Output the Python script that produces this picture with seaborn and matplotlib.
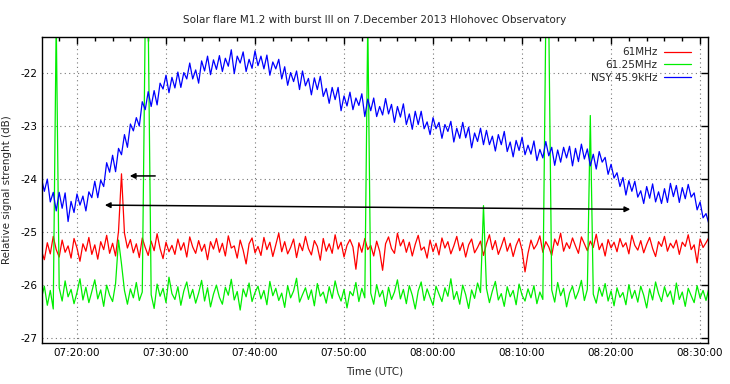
import numpy as np
import pandas as pd
import matplotlib
matplotlib.use("Agg")
import matplotlib.pyplot as plt
import matplotlib.dates as mdates
import seaborn as sns

# samples every 20 s starting 07:16:00 (7 December 2013)
start_time = "2013-12-07 07:16:00"
sample_step = "20s"

nsy_45k9 = [
    -23.98, -24.23, -24.00, -24.43, -24.25, -24.60, -24.25, -24.55, -24.26, -24.80, -24.42, -24.63, -24.28, -24.49, -24.32,
    -24.60, -24.24, -24.35, -24.04, -24.35, -24.02, -24.14, -23.69, -23.87, -23.55, -23.86, -23.42, -23.54, -23.16, -23.40,
    -22.96, -23.09, -22.84, -23.00, -22.54, -22.69, -22.35, -22.63, -22.33, -22.60, -22.19, -22.30, -22.04, -22.37, -22.08,
    -22.28, -21.98, -22.27, -21.99, -22.11, -21.81, -22.11, -21.94, -22.19, -21.77, -21.96, -21.68, -22.03, -21.75, -21.93,
    -21.67, -21.97, -21.72, -21.87, -21.56, -22.01, -21.68, -21.81, -21.60, -21.97, -21.74, -21.91, -21.58, -21.86, -21.68,
    -21.92, -21.66, -22.04, -21.79, -21.92, -21.74, -22.11, -21.88, -22.23, -21.99, -22.16, -21.96, -22.31, -21.96, -22.24,
    -22.10, -22.41, -22.09, -22.31, -22.06, -22.44, -22.29, -22.57, -22.27, -22.50, -22.27, -22.71, -22.43, -22.62, -22.36,
    -22.69, -22.47, -22.61, -22.39, -22.82, -22.49, -22.71, -22.47, -22.82, -22.63, -22.79, -22.48, -22.77, -22.59, -22.93,
    -22.63, -22.83, -22.58, -22.97, -22.77, -23.06, -22.72, -22.97, -22.72, -23.05, -22.92, -23.16, -22.84, -23.05, -22.93,
    -23.23, -22.97, -23.10, -22.91, -23.30, -23.04, -23.23, -22.93, -23.22, -23.02, -23.41, -23.13, -23.29, -23.04, -23.35,
    -23.08, -23.35, -23.19, -23.47, -23.16, -23.35, -23.10, -23.48, -23.30, -23.58, -23.27, -23.46, -23.21, -23.54, -23.36,
    -23.53, -23.28, -23.65, -23.44, -23.60, -23.29, -23.56, -23.40, -23.74, -23.45, -23.68, -23.40, -23.60, -23.38, -23.75,
    -23.42, -23.67, -23.34, -23.62, -23.43, -23.75, -23.53, -23.81, -23.48, -23.68, -23.59, -23.91, -23.72, -23.98, -23.88,
    -24.14, -23.97, -24.30, -24.03, -24.23, -24.04, -24.34, -24.22, -24.46, -24.14, -24.36, -24.09, -24.43, -24.24, -24.46,
    -24.18, -24.44, -24.08, -24.33, -24.12, -24.44, -24.16, -24.37, -24.10, -24.34, -24.26, -24.58, -24.43, -24.73, -24.65,
    -24.85,
]

mhz_61 = [
    -25.35, -25.52, -25.20, -25.41, -25.08, -25.33, -25.47, -25.15, -25.38, -25.26, -25.49, -25.12, -25.30, -25.55, -25.22,
    -25.36, -25.10, -25.42, -25.24, -25.51, -25.18, -25.33, -25.06, -25.40, -25.21, -25.45, -24.98, -23.90, -25.02, -25.30,
    -25.14, -25.39, -25.22, -25.48, -25.11, -25.29, -25.44, -25.17, -25.35, -25.03, -25.31, -25.50, -25.19, -25.37, -25.25,
    -25.42, -25.13, -25.34, -25.20, -25.47, -25.09, -25.28, -25.40, -25.16, -25.36, -25.23, -25.52, -25.18, -25.32, -25.12,
    -25.38, -25.21, -25.45, -25.07, -25.30, -25.26, -25.49, -25.15, -25.34, -25.60, -25.22, -25.11, -25.39, -25.27, -25.44,
    -25.10, -25.33, -25.19, -25.46, -25.24, -25.02, -25.37, -25.18, -25.41, -25.29, -25.13, -25.48, -25.21, -25.35, -25.08,
    -25.31, -25.43, -25.16, -25.27, -25.53, -25.12, -25.36, -25.22, -25.40, -25.05, -25.32, -25.19, -25.47, -25.25, -25.14,
    -25.28, -25.70, -25.20, -25.38, -25.12, -25.33, -25.25, -25.45, -25.17, -25.36, -25.72, -25.22, -25.09, -25.31, -25.40,
    -25.02, -25.26, -25.14, -25.38, -25.19, -25.45, -25.23, -25.06, -25.34, -25.28, -25.49, -25.15, -25.37, -25.21, -25.43,
    -25.11, -25.30, -25.18, -25.41, -25.26, -25.08, -25.35, -25.20, -25.47, -25.24, -25.13, -25.39, -25.29, -25.17, -25.44,
    -25.22, -25.05, -25.33, -25.16, -25.42, -25.27, -25.10, -25.36, -25.21, -25.46, -25.25, -25.12, -25.34, -25.75, -25.40,
    -25.15, -25.32, -25.23, -25.07, -25.38, -25.18, -25.28, -25.44, -25.13, -25.25, -25.02, -25.36, -25.20, -25.31, -25.11,
    -25.26, -25.40, -25.09, -25.22, -25.35, -25.17, -25.29, -25.04, -25.33, -25.21, -25.45, -25.14, -25.30, -25.19, -25.37,
    -25.12, -25.28, -25.20, -25.41, -25.06, -25.25, -25.34, -25.16, -25.39, -25.23, -25.10, -25.31, -25.46, -25.18, -25.27,
    -25.08, -25.36, -25.21, -25.30, -25.15, -25.42, -25.19, -25.27, -25.05, -25.33, -25.24, -25.58, -25.13, -25.29, -25.20,
    -25.10,
]

mhz_61_25 = [
    -26.25, -26.02, -26.38, -26.10, -26.45, -21.00, -26.05, -26.30, -25.92, -26.22, -26.08, -26.35, -26.14, -25.88, -26.28,
    -26.04, -26.33, -26.12, -25.90, -26.26, -26.09, -26.40, -26.00, -26.19, -26.31, -25.97, -25.15, -25.60, -26.10, -26.36,
    -26.07, -26.24, -25.95, -26.29, -26.13, -21.00, -21.00, -26.18, -26.44, -25.98, -26.21, -26.06, -26.33, -25.85, -26.16,
    -26.27, -26.03, -26.38, -26.11, -25.94, -26.25, -26.08, -26.34, -26.15, -25.91, -26.30, -26.05, -26.41, -26.17, -26.00,
    -26.23, -26.36, -26.04, -26.19, -25.89, -26.28, -26.12, -26.47, -26.07, -26.22, -25.96, -26.31, -26.14, -26.02, -26.26,
    -26.10, -26.37, -25.93, -26.20, -26.06, -26.29, -26.15, -26.42, -26.01, -26.24, -26.11, -25.87, -26.32, -26.18, -26.05,
    -26.27, -26.09, -26.39, -25.97, -26.21, -26.13, -26.34, -26.03, -26.25, -25.92, -26.16, -26.30, -26.08, -26.43, -26.12,
    -26.20, -25.95, -26.31, -26.06, -26.24, -21.00, -26.15, -26.36, -25.99, -26.22, -26.10, -26.40, -26.04, -26.27, -26.13,
    -25.90, -26.26, -26.08, -26.35, -26.01, -26.19, -26.45, -26.11, -25.94, -26.29, -26.07, -26.23, -26.38, -26.02, -26.17,
    -26.31, -26.05, -26.21, -25.88, -26.27, -26.12, -26.36, -26.00, -26.18, -26.44, -26.09, -26.25, -25.96, -26.14, -24.50,
    -26.06, -26.33, -26.11, -25.93, -26.28, -26.16, -26.40, -26.03, -26.22, -26.10, -26.37, -25.98, -26.19, -26.30, -26.07,
    -26.24, -26.01, -26.35, -26.13, -26.27, -21.00, -21.00, -26.09, -26.32, -25.95, -26.20, -26.06, -26.41, -26.15, -26.02,
    -26.26, -26.12, -25.91, -26.29, -26.08, -22.80, -26.17, -26.34, -26.04, -26.21, -25.97, -26.30, -26.11, -26.39, -26.05,
    -26.23, -26.14, -26.37, -25.99, -26.25, -26.10, -26.32, -26.02, -26.19, -26.43, -26.07, -26.28, -25.94, -26.16, -26.31,
    -26.03, -26.22, -26.11, -26.36, -25.96, -26.27, -26.13, -26.40, -26.06, -26.20, -26.33, -26.01, -26.24, -26.10, -26.29,
    -26.05,
]

series_labels = ["61MHz", "61.25MHz", "NSY 45.9kHz"]

sns.set_style("white")
plt.rcParams["font.family"] = ["DejaVu Sans"]
plt.rcParams["axes.unicode_minus"] = False

fig = plt.figure(figsize=(7.3, 3.84), dpi=100)
ax = fig.add_axes([0.0575, 0.107, 0.9125, 0.7965])

for vals, lab, col in zip([mhz_61, mhz_61_25, nsy_45k9], series_labels,
                          ["#ff0000", "#00ee00", "#0000ff"]):
    t = pd.date_range(start_time, periods=len(vals), freq=sample_step)
    sns.lineplot(x=t, y=vals, ax=ax, color=col, lw=0.9, label=lab, estimator=None)

# arrows drawn on the original
ax.annotate("", xy=(pd.Timestamp("2013-12-07 07:25:37"), -23.94),
            xytext=(pd.Timestamp("2013-12-07 07:29:06"), -23.94),
            arrowprops=dict(arrowstyle="-|>", color="black", lw=1.1, mutation_scale=8))
ax.annotate("", xy=(pd.Timestamp("2013-12-07 07:22:49"), -24.49),
            xytext=(pd.Timestamp("2013-12-07 08:22:28"), -24.57),
            arrowprops=dict(arrowstyle="<|-|>", color="black", lw=1.1, mutation_scale=8))

ax.set_xlim(pd.Timestamp("2013-12-07 07:16:04"), pd.Timestamp("2013-12-07 08:30:54"))
ax.set_ylim(-27.09, -21.32)
ax.set_yticks([-22, -23, -24, -25, -26, -27])
ax.xaxis.set_major_locator(mdates.MinuteLocator(byminute=range(0, 60, 10)))
ax.xaxis.set_minor_locator(mdates.MinuteLocator(byminute=range(0, 60, 2)))
ax.xaxis.set_major_formatter(mdates.DateFormatter("%H:%M:%S"))

ax.grid(True, which="major", ls=(0, (1, 3)), color="#777777", lw=0.8)
ax.tick_params(which="both", direction="in", top=True, right=True, labelsize=7.5, colors="black")
ax.tick_params(which="major", length=5, width=1)
ax.tick_params(which="minor", length=3, width=1)
for s in ax.spines.values():
    s.set_color("black")
    s.set_linewidth(1)

ax.set_title("Solar flare M1.2 with burst III on 7.December 2013 Hlohovec Observatory",
             fontsize=7.5, pad=10)
ax.set_xlabel("Time (UTC)", fontsize=7.5, labelpad=6)
ax.set_ylabel("Relative signal strenght (dB)", fontsize=7.5, labelpad=6)

ax.legend(loc="upper right", bbox_to_anchor=(0.985, 0.99), frameon=False, markerfirst=False,
          fontsize=7.5, handlelength=2.6, handletextpad=0.6, labelspacing=0.25, borderpad=0.2)

fig.savefig("out.png", dpi=100)
